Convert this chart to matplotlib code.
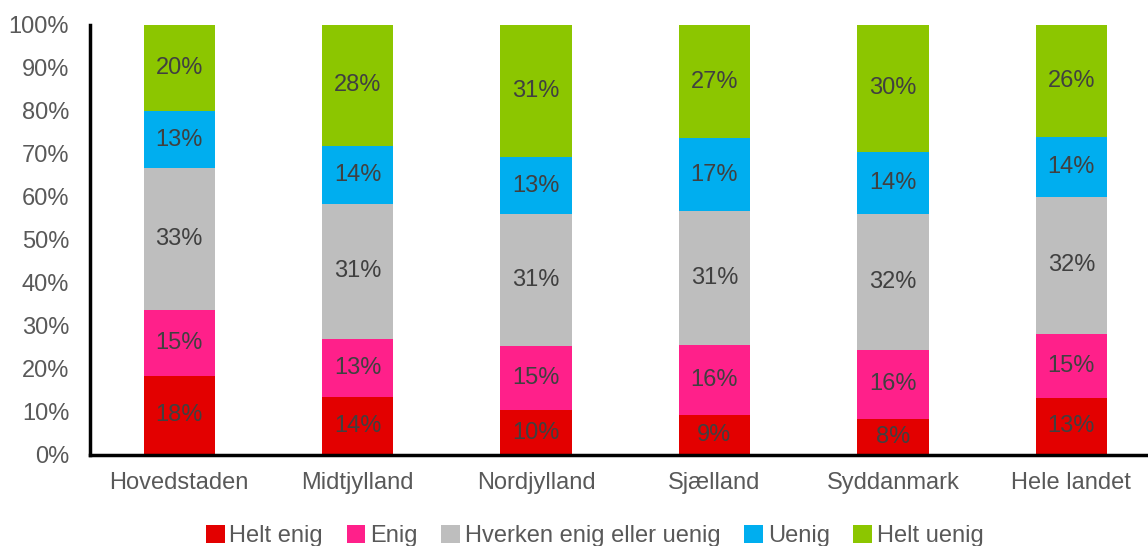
import numpy as np
import matplotlib.pyplot as plt

plt.rcParams['font.family'] = ['Liberation Sans', 'DejaVu Sans']

# data
regions = ['Hovedstaden', 'Midtjylland', 'Nordjylland', 'Sjælland', 'Syddanmark', 'Hele landet']
series = ['Helt enig', 'Enig', 'Hverken enig eller uenig', 'Uenig', 'Helt uenig']
helt_enig = [18.4, 13.5, 10.4, 9.4, 8.4, 13.3]
enig = [15.3, 13.5, 14.9, 16.1, 16.0, 14.9]
hverken = [33.0, 31.4, 30.7, 31.2, 31.7, 31.9]
uenig = [13.3, 13.5, 13.3, 17.0, 14.4, 13.9]
helt_uenig = [20.0, 28.1, 30.7, 26.3, 29.5, 26.0]
labels = [
    ['18%', '14%', '10%', '9%', '8%', '13%'],
    ['15%', '13%', '15%', '16%', '16%', '15%'],
    ['33%', '31%', '31%', '31%', '32%', '32%'],
    ['13%', '14%', '13%', '17%', '14%', '14%'],
    ['20%', '28%', '31%', '27%', '30%', '26%'],
]
colors = ['#e30000', '#ff208a', '#bebebe', '#00aeef', '#8cc600']

fig = plt.figure(figsize=(11.48, 5.46), dpi=100)
ax = fig.add_axes([0.0784, 0.1667, 0.9216, 0.7876])

x = np.arange(len(regions))
bar_width = 0.4
bottom = np.zeros(len(regions))
for vals, name, col, labs in zip([helt_enig, enig, hverken, uenig, helt_uenig], series, colors, labels):
    vals = np.array(vals)
    ax.bar(x, vals, bar_width, bottom=bottom, color=col, label=name, linewidth=0)
    for xi, b, v, lab in zip(x, bottom, vals, labs):
        ax.text(xi, b + v / 2, lab, ha='center', va='center', fontsize=17, color='#404040')
    bottom += vals

ax.set_ylim(0, 100)
ax.set_xlim(-0.5, 5.43)
ax.set_yticks(np.arange(0, 101, 10))
ax.set_yticklabels([f'{v}%' for v in range(0, 101, 10)])
ax.set_xticks(x)
ax.set_xticklabels(regions)
ax.tick_params(axis='both', length=0, labelsize=17, labelcolor='#595959')
ax.tick_params(axis='y', pad=15)
ax.tick_params(axis='x', pad=12)

for s in ['top', 'right']:
    ax.spines[s].set_visible(False)
ax.spines['left'].set_linewidth(2.5)
ax.spines['bottom'].set_linewidth(2.5)

ax.legend(loc='upper center', bbox_to_anchor=(0.477, -0.135), ncol=5, frameon=False,
          fontsize=17, handlelength=0.8, handleheight=0.8, handletextpad=0.2,
          columnspacing=1.0, labelcolor='#595959', borderpad=0)

fig.savefig('out.png', dpi=100)
